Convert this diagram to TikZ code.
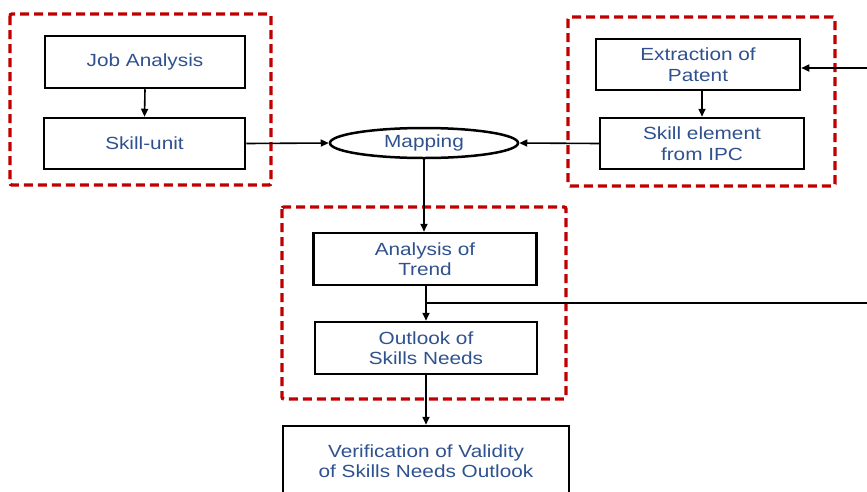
\documentclass[tikz,border=0pt]{standalone}
\usepackage{fontspec}
\setmainfont[FakeStretch=1.18]{Liberation Sans}
\usetikzlibrary{shapes.geometric,arrows.meta}
\definecolor{txtblue}{RGB}{47,82,143}
\definecolor{dred}{RGB}{192,0,0}
\tikzset{
  box/.style={draw=black, line width=2.5pt, rectangle, align=center, text=txtblue,
    font=\fontsize{17.6}{20.5}\selectfont, inner sep=0pt},
  grp/.style={draw=dred, line width=3.4pt, dash pattern=on 9pt off 5pt, rounded corners=2pt},
  arr/.style={line width=1.6pt, -{Triangle[length=8pt,width=7pt]}},
  ln/.style={line width=1.6pt}
}
\begin{document}
\begin{tikzpicture}[x=1pt,y=-1pt]
\useasboundingbox (0,0) rectangle (867,491);
\clip (0,0) rectangle (867,491);
\fill[white] (0,0) rectangle (867,491);
% group frames
\draw[grp] (10,14) rectangle (271,185);
\draw[grp] (568,17) rectangle (835,186);
\draw[grp] (282,207) rectangle (566,399);
% nodes
\node[box, minimum width=200pt, minimum height=52pt] (job) at (145,62) {Job Analysis};
\node[box, minimum width=201pt, minimum height=51pt] (unit) at (144.5,143.5) {Skill-unit};
\node[box, minimum width=204pt, minimum height=51pt] (extr) at (698,64.5) {Extraction of\\Patent};
\node[box, minimum width=204pt, minimum height=51pt] (elem) at (702,143.5) {Skill element\\from IPC};
\node[box, ellipse, minimum width=188pt, minimum height=30pt] (map) at (424,143) {Mapping};
\node[box, minimum width=223pt, minimum height=52pt] (trend) at (425,259) {Analysis of\\Trend};
\node[box, minimum width=222pt, minimum height=52pt] (outl) at (426,348) {Outlook of\\Skills Needs};
\node[box, minimum width=286pt, minimum height=70pt] (verif) at (426,461) {Verification of Validity\\of Skills Needs Outlook};
\coordinate (r1) at (867,68);
\coordinate (r2) at (867,303);
% connectors
\draw[arr] (job.south) -- (unit.north);
\draw[arr] (extr.south -| elem.north) -- (elem.north);
\draw[arr] (unit.east) -- (map.west);
\draw[arr] (elem.west) -- (map.east);
\draw[arr] (r1) -- (extr.east |- r1);
\draw[arr] (map.south) -- (map.south |- trend.north);
\draw[arr] (trend.south -| outl.north) -- (outl.north);
\draw[ln] (r2) -- (r2 -| outl.north);
\draw[arr] (outl.south) -- (verif.north);
\end{tikzpicture}
\end{document}
